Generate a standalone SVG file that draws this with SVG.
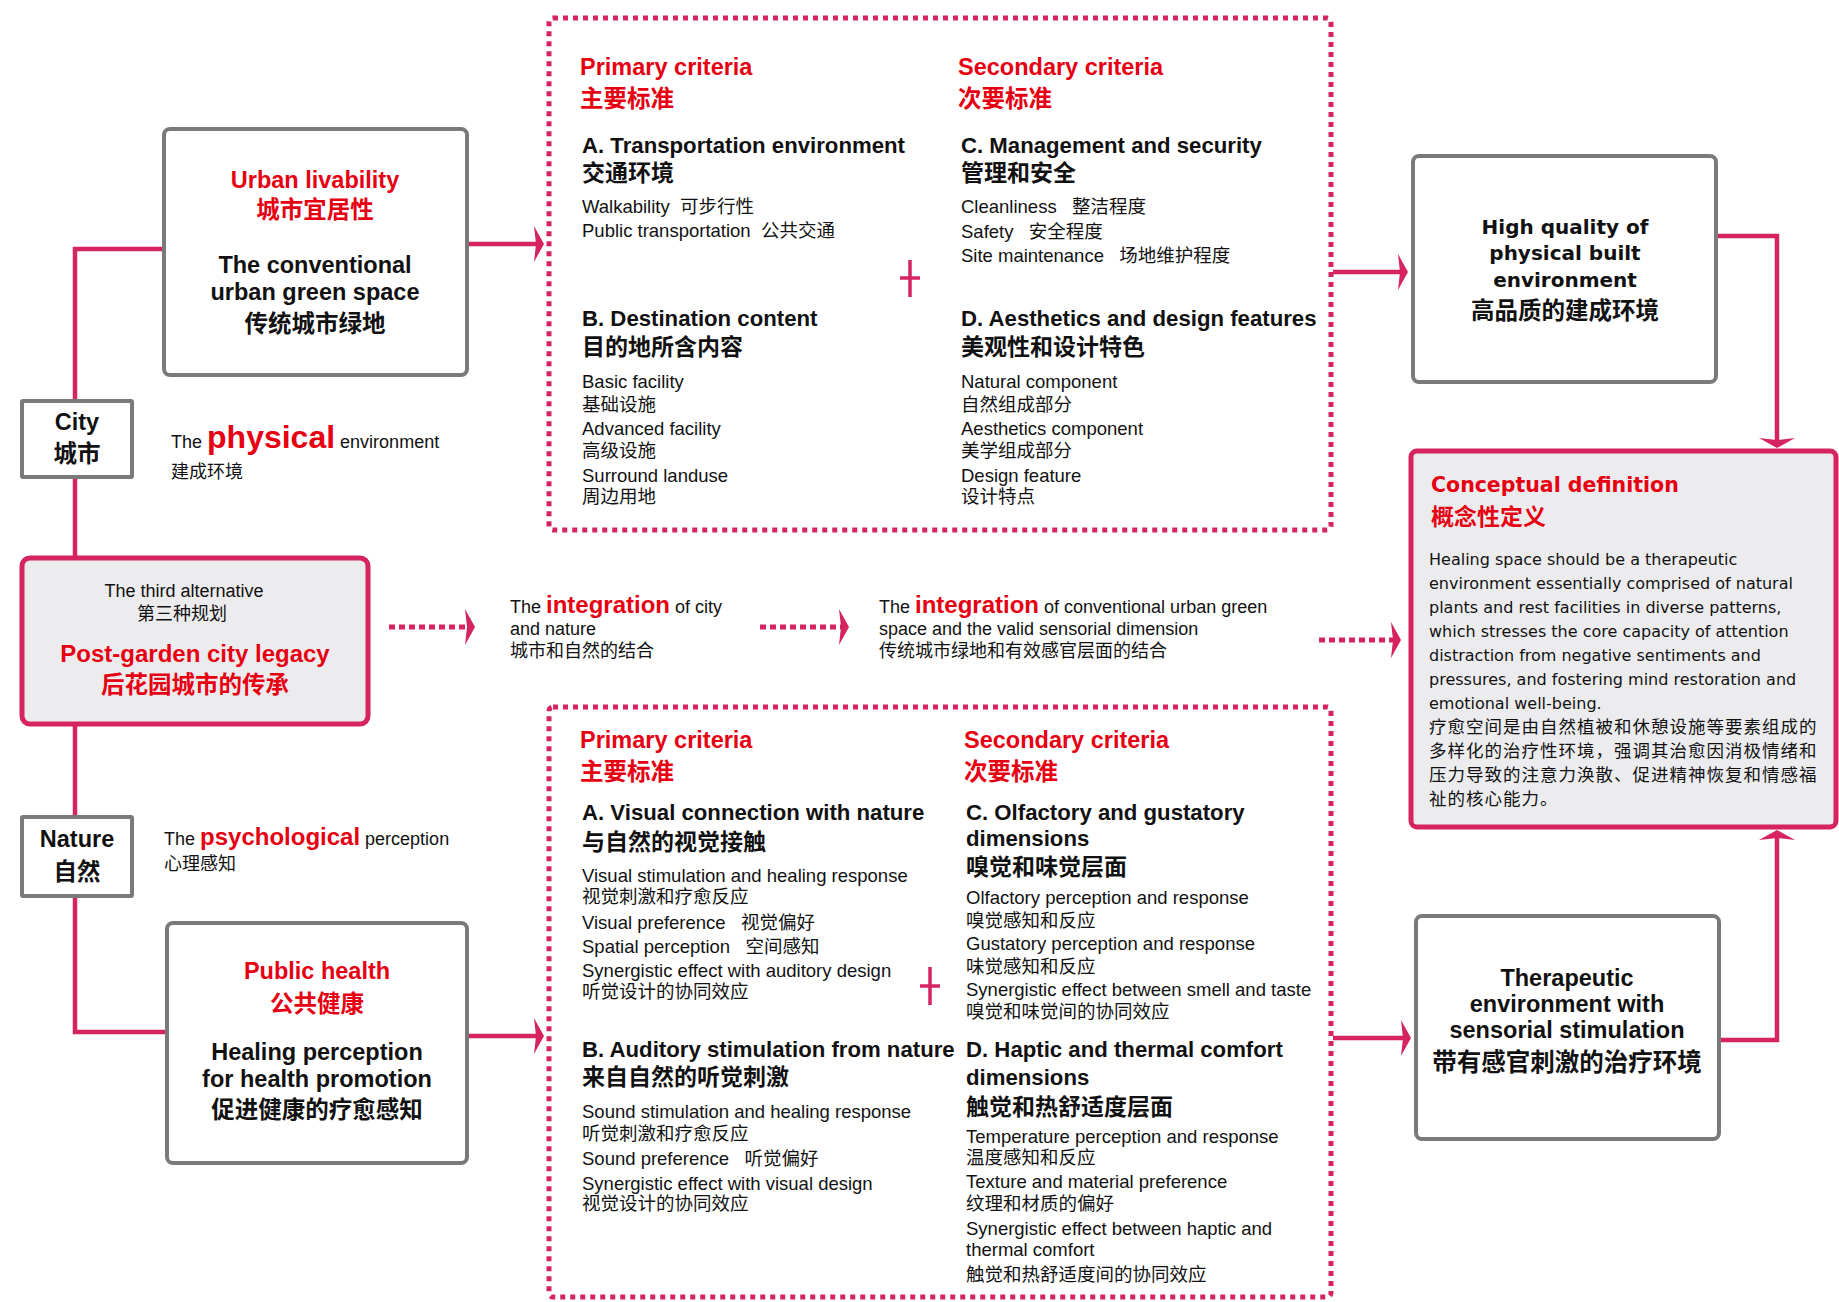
<svg xmlns="http://www.w3.org/2000/svg" width="1839" height="1302" viewBox="0 0 1839 1302">
<style>
text{font-family:"Liberation Sans","Noto Sans CJK SC",sans-serif;fill:#111}
.b{font-weight:bold}
.red{fill:#e60012}
.c{text-anchor:middle}
.h{font-size:23.5px;font-weight:bold}
.s18{font-size:18px}
.body{font-size:18.5px}
.hd{font-size:22.2px;font-weight:bold}
.cjkb{font-size:23px;font-weight:bold}
.dv{font-family:"DejaVu Sans","Noto Sans CJK SC",sans-serif}
.gray{fill:#fff;stroke:#7a7a7a;stroke-width:4}
.pk{fill:#ececef;stroke:#d5245e;stroke-width:5}
.dotbox{fill:none;stroke:#d5245e;stroke-width:5;stroke-dasharray:5 5}
.conn{fill:none;stroke:#d5245e;stroke-width:4.5}
.dconn{fill:none;stroke:#d5245e;stroke-width:5;stroke-dasharray:6 4}
.plus{stroke:#d5245e;stroke-width:3.5;fill:none}
</style>
<defs>
<marker id="ah" viewBox="0 0 10 36" markerWidth="10" markerHeight="36" refX="7" refY="18" orient="auto" markerUnits="userSpaceOnUse">
<path d="M0,0 L10,18 L0,36 L2,18 Z" fill="#d5245e"/>
</marker>
</defs>
<rect width="1839" height="1302" fill="#fff"/>

<g id="connectors">
<path class="conn" d="M164,249 H75 V401"/>
<path class="conn" d="M75,477 V558"/>
<path class="conn" d="M75,724 V817"/>
<path class="conn" d="M75,896 V1032 H167"/>
<path class="conn" d="M467,244 H541" marker-end="url(#ah)"/>
<path class="conn" d="M467,1036 H541" marker-end="url(#ah)"/>
<path class="conn" d="M1333,272 H1405" marker-end="url(#ah)"/>
<path class="conn" d="M1716,236 H1777 V445" marker-end="url(#ah)"/>
<path class="conn" d="M1333,1038 H1408" marker-end="url(#ah)"/>
<path class="conn" d="M1719,1040 H1777 V833" marker-end="url(#ah)"/>
<path class="dconn" d="M389,627 H472" marker-end="url(#ah)"/>
<path class="dconn" d="M760,627 H846" marker-end="url(#ah)"/>
<path class="dconn" d="M1319,640 H1398" marker-end="url(#ah)"/>
<path class="plus" d="M910,260 V297 M900,278 H920"/>
<path class="plus" d="M930,967 V1005 M920,986 H940"/>
</g>

<g id="urban">
<rect class="gray" x="164" y="129" width="303" height="246" rx="6"/>
<text class="h red c" x="315" y="188">Urban livability</text>
<text class="h red c" x="315" y="218">城市宜居性</text>
<text class="h c" x="315" y="273">The conventional</text>
<text class="h c" x="315" y="300">urban green space</text>
<text class="h c" x="315" y="332">传统城市绿地</text>
</g>

<g id="city">
<rect class="gray" x="22" y="401" width="110" height="76" rx="1"/>
<text class="h c" x="77" y="430">City</text>
<text class="h c" x="77" y="462">城市</text>
</g>

<g id="physical-label">
<text x="171" y="448" class="s18">The <tspan class="b red" font-size="32">physical</tspan> environment</text>
<text x="171" y="478" class="s18">建成环境</text>
</g>

<g id="post-garden">
<rect class="pk" x="22" y="558" width="346" height="166" rx="8"/>
<text class="s18 c" x="184" y="597">The third alternative</text>
<text class="s18 c" x="182" y="620">第三种规划</text>
<text class="b red c" font-size="24" x="195" y="662">Post-garden city legacy</text>
<text class="h red c" x="195" y="693">后花园城市的传承</text>
</g>

<g id="nature">
<rect class="gray" x="22" y="817" width="110" height="79" rx="1"/>
<text class="h c" x="77" y="847">Nature</text>
<text class="h c" x="77" y="880">自然</text>
</g>

<g id="psychological-label">
<text x="164" y="845" class="s18">The <tspan class="b red" font-size="24">psychological</tspan> perception</text>
<text x="164" y="870" class="s18">心理感知</text>
</g>

<g id="public-health">
<rect class="gray" x="167" y="923" width="300" height="240" rx="6"/>
<text class="h red c" x="317" y="979">Public health</text>
<text class="h red c" x="317" y="1012">公共健康</text>
<text class="h c" x="317" y="1060">Healing perception</text>
<text class="h c" x="317" y="1087">for health promotion</text>
<text class="h c" x="317" y="1118">促进健康的疗愈感知</text>
</g>

<g id="physical-criteria">
<rect class="dotbox" x="549" y="18" width="782" height="512" rx="4"/>
<text class="h red" x="580" y="75">Primary criteria</text>
<text class="h red" x="580" y="107">主要标准</text>
<text class="h red" x="958" y="75">Secondary criteria</text>
<text class="h red" x="958" y="107">次要标准</text>
<text class="hd" x="582" y="153">A. Transportation environment</text>
<text class="cjkb" x="582" y="181">交通环境</text>
<text class="body" x="582" y="213">Walkability&#160;&#160;可步行性</text>
<text class="body" x="582" y="237">Public transportation&#160;&#160;公共交通</text>
<text class="hd" x="961" y="153">C. Management and security</text>
<text class="cjkb" x="961" y="181">管理和安全</text>
<text class="body" x="961" y="213">Cleanliness&#160;&#160;&#160;整洁程度</text>
<text class="body" x="961" y="238">Safety&#160;&#160;&#160;安全程度</text>
<text class="body" x="961" y="262">Site maintenance&#160;&#160;&#160;场地维护程度</text>
<text class="hd" x="582" y="326">B. Destination content</text>
<text class="cjkb" x="582" y="355">目的地所含内容</text>
<text class="body" x="582" y="388">Basic facility</text>
<text class="body" x="582" y="411">基础设施</text>
<text class="body" x="582" y="435">Advanced facility</text>
<text class="body" x="582" y="457">高级设施</text>
<text class="body" x="582" y="482">Surround landuse</text>
<text class="body" x="582" y="503">周边用地</text>
<text class="hd" x="961" y="326">D. Aesthetics and design features</text>
<text class="cjkb" x="961" y="355">美观性和设计特色</text>
<text class="body" x="961" y="388">Natural component</text>
<text class="body" x="961" y="411">自然组成部分</text>
<text class="body" x="961" y="435">Aesthetics component</text>
<text class="body" x="961" y="457">美学组成部分</text>
<text class="body" x="961" y="482">Design feature</text>
<text class="body" x="961" y="503">设计特点</text>
</g>

<g id="integration-1">
<text x="510" y="613" class="s18">The <tspan class="b red" font-size="24">integration</tspan> of city</text>
<text x="510" y="635" class="s18">and nature</text>
<text x="510" y="657" class="s18">城市和自然的结合</text>
</g>

<g id="integration-2">
<text x="879" y="613" class="s18">The <tspan class="b red" font-size="24">integration</tspan> of conventional urban green</text>
<text x="879" y="635" class="s18">space and the valid sensorial dimension</text>
<text x="879" y="657" class="s18">传统城市绿地和有效感官层面的结合</text>
</g>

<g id="sensorial-criteria">
<rect class="dotbox" x="549" y="707" width="782" height="590" rx="4"/>
<text class="h red" x="580" y="748">Primary criteria</text>
<text class="h red" x="580" y="780">主要标准</text>
<text class="h red" x="964" y="748">Secondary criteria</text>
<text class="h red" x="964" y="780">次要标准</text>
<text class="hd" x="582" y="820">A. Visual connection with nature</text>
<text class="cjkb" x="582" y="850">与自然的视觉接触</text>
<text class="body" x="582" y="882">Visual stimulation and healing response</text>
<text class="body" x="582" y="903">视觉刺激和疗愈反应</text>
<text class="body" x="582" y="929">Visual preference&#160;&#160;&#160;视觉偏好</text>
<text class="body" x="582" y="953">Spatial perception&#160;&#160;&#160;空间感知</text>
<text class="body" x="582" y="977">Synergistic effect with auditory design</text>
<text class="body" x="582" y="998">听觉设计的协同效应</text>
<text class="hd" x="582" y="1057">B. Auditory stimulation from nature</text>
<text class="cjkb" x="582" y="1085">来自自然的听觉刺激</text>
<text class="body" x="582" y="1118">Sound stimulation and healing response</text>
<text class="body" x="582" y="1140">听觉刺激和疗愈反应</text>
<text class="body" x="582" y="1165">Sound preference&#160;&#160;&#160;听觉偏好</text>
<text class="body" x="582" y="1190">Synergistic effect with visual design</text>
<text class="body" x="582" y="1210">视觉设计的协同效应</text>
<text class="hd" x="966" y="820">C. Olfactory and gustatory</text>
<text class="hd" x="966" y="846">dimensions</text>
<text class="cjkb" x="966" y="875">嗅觉和味觉层面</text>
<text class="body" x="966" y="904">Olfactory perception and response</text>
<text class="body" x="966" y="927">嗅觉感知和反应</text>
<text class="body" x="966" y="950">Gustatory perception and response</text>
<text class="body" x="966" y="973">味觉感知和反应</text>
<text class="body" x="966" y="996">Synergistic effect between smell and taste</text>
<text class="body" x="966" y="1018">嗅觉和味觉间的协同效应</text>
<text class="hd" x="966" y="1057">D. Haptic and thermal comfort</text>
<text class="hd" x="966" y="1085">dimensions</text>
<text class="cjkb" x="966" y="1115">触觉和热舒适度层面</text>
<text class="body" x="966" y="1143">Temperature perception and response</text>
<text class="body" x="966" y="1164">温度感知和反应</text>
<text class="body" x="966" y="1188">Texture and material preference</text>
<text class="body" x="966" y="1210">纹理和材质的偏好</text>
<text class="body" x="966" y="1235">Synergistic effect between haptic and</text>
<text class="body" x="966" y="1256">thermal comfort</text>
<text class="body" x="966" y="1281">触觉和热舒适度间的协同效应</text>
</g>

<g id="high-quality">
<rect class="gray" x="1413" y="156" width="303" height="226" rx="6"/>
<text class="dv b c" font-size="20" x="1565" y="234">High quality of</text>
<text class="dv b c" font-size="20" x="1565" y="260">physical built</text>
<text class="dv b c" font-size="20" x="1565" y="287">environment</text>
<text class="h c" x="1565" y="319">高品质的建成环境</text>
</g>

<g id="conceptual-definition">
<rect class="pk" x="1411" y="451" width="425" height="376" rx="6"/>
<text class="dv b red" font-size="20.5" x="1431" y="492">Conceptual definition</text>
<text class="cjkb red" x="1431" y="525">概念性定义</text>
<g class="dv" font-size="16">
<text class="dv" x="1429" y="565">Healing space should be a therapeutic</text>
<text class="dv" x="1429" y="589">environment essentially comprised of natural</text>
<text class="dv" x="1429" y="613">plants and rest facilities in diverse patterns,</text>
<text class="dv" x="1429" y="637">which stresses the core capacity of attention</text>
<text class="dv" x="1429" y="661">distraction from negative sentiments and</text>
<text class="dv" x="1429" y="685">pressures, and fostering mind restoration and</text>
<text class="dv" x="1429" y="709">emotional well-being.</text>
</g>
<g font-size="17.5" letter-spacing="1">
<text x="1429" y="733">疗愈空间是由自然植被和休憩设施等要素组成的</text>
<text x="1429" y="757">多样化的治疗性环境，强调其治愈因消极情绪和</text>
<text x="1429" y="781">压力导致的注意力涣散、促进精神恢复和情感福</text>
<text x="1429" y="805">祉的核心能力。</text>
</g>
</g>

<g id="therapeutic">
<rect class="gray" x="1416" y="916" width="303" height="223" rx="6"/>
<text class="h c" x="1567" y="986">Therapeutic</text>
<text class="h c" x="1567" y="1012">environment with</text>
<text class="h c" x="1567" y="1038">sensorial stimulation</text>
<text class="b c" font-size="24.5" x="1567" y="1071">带有感官刺激的治疗环境</text>
</g>
</svg>
